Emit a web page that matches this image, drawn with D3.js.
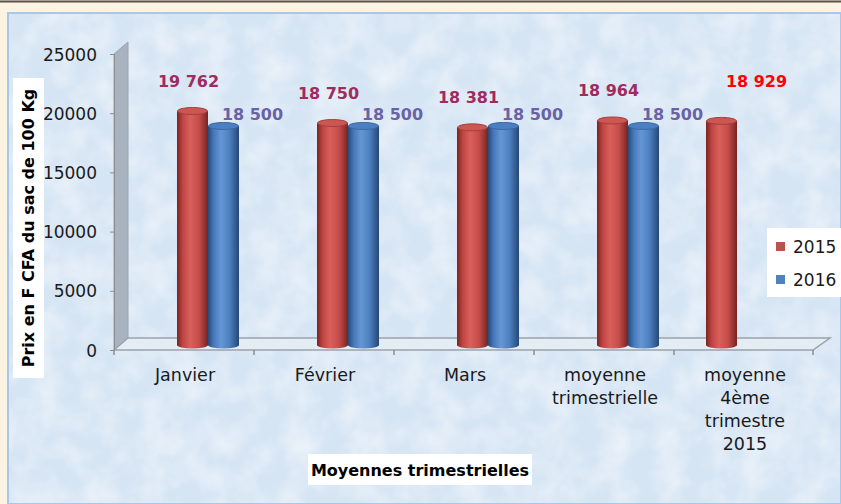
<!DOCTYPE html>
<html>
<head>
<meta charset="utf-8">
<script src="https://cdn.jsdelivr.net/npm/d3@7"></script>
<style>
  body { margin: 0; background: #fdf3e2; }
  svg { display: block; font-family: "DejaVu Sans", sans-serif; }
</style>
</head>
<body>
<div id="chart"></div>
<script>
// Chart data
const categories = ["Janvier", "Février", "Mars", "moyenne trimestrielle", "moyenne 4ème trimestre 2015"];
const categoryLines = [["Janvier"], ["Février"], ["Mars"], ["moyenne", "trimestrielle"], ["moyenne", "4ème", "trimestre", "2015"]];
const seriesNames = ["2015", "2016"];
const values2015 = [19762, 18750, 18381, 18964, 18929];
const values2016 = [18500, 18500, 18500, 18500, null];
const yTicks = [0, 5000, 10000, 15000, 20000, 25000];

const width = 841, height = 504;

const svg = d3.select("#chart").append("svg")
    .attr("width", width)
    .attr("height", height);

const defs = svg.append("defs");

// mottled texture for the blue panel
const noise = defs.append("filter").attr("id", "noise")
    .attr("x", 0).attr("y", 0).attr("width", "100%").attr("height", "100%");
noise.append("feTurbulence")
    .attr("type", "fractalNoise")
    .attr("baseFrequency", 0.035)
    .attr("numOctaves", 3)
    .attr("seed", 4);
noise.append("feColorMatrix")
    .attr("type", "matrix")
    .attr("values", "0 0 0 0 1  0 0 0 0 1  0 0 0 0 1  0 0 0 1.6 -0.55");

// cylinder gradients
function cylGradient(id, stops) {
    const g = defs.append("linearGradient").attr("id", id)
        .attr("x1", "0%").attr("x2", "100%").attr("y1", "0%").attr("y2", "0%");
    stops.forEach(s => g.append("stop").attr("offset", s[0]).attr("stop-color", s[1]));
}
cylGradient("grad2015", [["0%", "#7a2321"], ["18%", "#bd4541"], ["42%", "#d95f5b"], ["70%", "#c64e4a"], ["100%", "#772422"]]);
cylGradient("grad2016", [["0%", "#26497a"], ["18%", "#4677b8"], ["42%", "#6596d4"], ["70%", "#4c7fc0"], ["100%", "#254776"]]);

const color = d3.scaleOrdinal().domain(seriesNames).range(["#c0504d", "#4f81bd"]);
const topFill = d3.scaleOrdinal().domain(seriesNames).range(["#cd5652", "#4c7ec2"]);
const topStroke = d3.scaleOrdinal().domain(seriesNames).range(["#a3403c", "#3a69a3"]);
const labelColor = d3.scaleOrdinal().domain(seriesNames).range(["#a02b5e", "#6a62a3"]);

// background panel
svg.append("rect").attr("x", 0).attr("y", 0).attr("width", width).attr("height", height).attr("fill", "#fdf3e2");
svg.append("line").attr("x1", 0).attr("x2", width).attr("y1", 1.5).attr("y2", 1.5)
    .attr("stroke", "#5a5048").attr("stroke-width", 2);
svg.append("rect").attr("x", 8).attr("y", 13).attr("width", width - 8).attr("height", height - 13)
    .attr("fill", "#d6e5f4").attr("stroke", "#a9c8e8").attr("stroke-width", 2);
svg.append("rect").attr("x", 9).attr("y", 14).attr("width", width - 10).attr("height", height - 15)
    .attr("filter", "url(#noise)").attr("opacity", 0.55);

// scales
const x0 = d3.scaleBand().domain(categories).range([114, 814]).padding(0);
const x1 = d3.scaleBand().domain(seriesNames).range([63, 125]).padding(0);
const y = d3.scaleLinear().domain([0, 25000]).range([350, 54]);

// 3D depth offset
const depthX = 14, depthY = -12;

// side wall of the y axis
svg.append("path")
    .attr("d", `M${x0.range()[0]},${y(25000)} l${depthX},${depthY} L${x0.range()[0] + depthX},${y(0) + depthY} L${x0.range()[0]},${y(0)} Z`)
    .attr("fill", "#a9b3bf")
    .attr("stroke", "#9ca6b2");

// floor
svg.append("path")
    .attr("d", `M${x0.range()[0]},${y(0)} L${x0.range()[1] - 1},${y(0)} l${depthX + 3},${depthY} L${x0.range()[0] + depthX},${y(0) + depthY} Z`)
    .attr("fill", "#e4ecf4")
    .attr("stroke", "#9aa3ac")
    .attr("stroke-width", 1.5);

// y axis
const yAxis = svg.append("g")
    .attr("transform", `translate(${x0.range()[0]},0)`)
    .call(d3.axisLeft(y).tickValues(yTicks).tickSize(4).tickPadding(13).tickFormat(d3.format("d")));
yAxis.select(".domain").attr("stroke", "#8e8e8e");
yAxis.selectAll(".tick line").attr("stroke", "#8e8e8e");
yAxis.selectAll("text").attr("font-size", 17).attr("fill", "#1a1a1a")
    .attr("font-family", "DejaVu Sans, sans-serif").attr("dy", "0.36em");

// x axis ticks at band edges
const edges = categories.map(c => x0(c)).concat([x0.range()[1] - 1]);
svg.append("g").selectAll("line")
    .data(edges)
    .enter().append("line")
    .attr("x1", d => d).attr("x2", d => d)
    .attr("y1", y(0)).attr("y2", y(0) + 5)
    .attr("stroke", "#8e8e8e").attr("stroke-width", 1.5);

// category labels
categories.forEach((c, i) => {
    const t = svg.append("text")
        .attr("x", x0(c) + x0.bandwidth() / 2)
        .attr("y", 381)
        .attr("text-anchor", "middle")
        .attr("font-size", 17.5)
        .attr("fill", "#1a1a1a");
    categoryLines[i].forEach((line, j) => {
        t.append("tspan")
            .attr("x", x0(c) + x0.bandwidth() / 2 + 1)
            .attr("dy", j === 0 ? 0 : 23)
            .text(line);
    });
});

// bars as cylinders
const fmt = d3.formatLocale({decimal: ",", thousands: " ", grouping: [3]}).format(",d");
const rows = categories.map((c, i) => ({cat: c, v: [values2015[i], values2016[i]]}));
const ry = 3.5;

rows.forEach(row => {
    const lone = row.v.filter(v => v != null).length === 1;
    row.v.forEach((v, k) => {
        if (v == null) return;
        const s = seriesNames[k];
        const w = x1.bandwidth();
        const bx = x0(row.cat) + x1(s) - (lone ? w : 0);
        const top = y(v) - 5;
        const base = y(0) - 5;
        const g = svg.append("g");
        g.append("ellipse")
            .attr("cx", bx + w / 2).attr("cy", base)
            .attr("rx", w / 2).attr("ry", ry)
            .attr("fill", `url(#grad${s})`);
        g.append("rect")
            .attr("x", bx).attr("y", top)
            .attr("width", w).attr("height", base - top)
            .attr("fill", `url(#grad${s})`);
        g.append("ellipse")
            .attr("cx", bx + w / 2).attr("cy", top)
            .attr("rx", w / 2 - 0.5).attr("ry", ry)
            .attr("fill", topFill(s))
            .attr("stroke", topStroke(s)).attr("stroke-width", 1);

        // value label
        let lx, ly, fill = labelColor(s);
        if (lone) {
            lx = bx + w / 2 + 35; ly = top - 34; fill = "#ff0000";
        } else if (k === 0) {
            lx = bx + w / 2 - 4; ly = top - 24;
        } else {
            lx = bx + w / 2 + 29; ly = top - 6;
        }
        svg.append("text")
            .attr("x", lx).attr("y", ly)
            .attr("text-anchor", "middle")
            .attr("font-size", 16)
            .attr("font-weight", "bold")
            .attr("fill", fill)
            .text(fmt(v));
    });
});

// y axis title with white box
const yTitle = svg.append("g").attr("transform", "translate(28,228) rotate(-90)");
yTitle.append("rect").attr("x", -150).attr("y", -15).attr("width", 300).attr("height", 31).attr("fill", "#ffffff");
yTitle.append("text")
    .attr("text-anchor", "middle")
    .attr("dy", "0.36em")
    .attr("font-size", 16)
    .attr("font-weight", "bold")
    .attr("fill", "#000")
    .text("Prix en F CFA du sac de 100 Kg");

// x axis title with white box
svg.append("rect").attr("x", 308).attr("y", 454).attr("width", 224).attr("height", 31).attr("fill", "#ffffff");
svg.append("text")
    .attr("x", 420).attr("y", 476)
    .attr("text-anchor", "middle")
    .attr("font-size", 16)
    .attr("font-weight", "bold")
    .attr("fill", "#000")
    .text("Moyennes trimestrielles");

// legend
const legend = svg.append("g").attr("transform", "translate(767,228)");
legend.append("rect").attr("width", 74).attr("height", 69).attr("fill", "#ffffff");
seriesNames.forEach((s, i) => {
    legend.append("rect")
        .attr("x", 9).attr("y", 14 + i * 33)
        .attr("width", 9).attr("height", 9)
        .attr("fill", color(s));
    legend.append("text")
        .attr("x", 26).attr("y", 25 + i * 33)
        .attr("font-size", 17)
        .attr("fill", "#1a1a1a")
        .text(s);
});
</script>
</body>
</html>
